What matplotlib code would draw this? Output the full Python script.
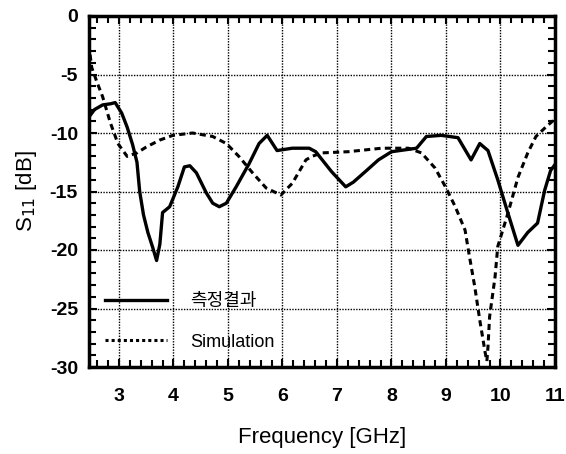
import numpy as np
import matplotlib
matplotlib.use("Agg")
import matplotlib.pyplot as plt
from matplotlib.lines import Line2D
from matplotlib.ticker import MultipleLocator

plt.rcParams['font.family'] = ['Liberation Sans', 'Noto Sans CJK KR', 'DejaVu Sans']
plt.rcParams['axes.unicode_minus'] = False

# measured (측정결과)
meas_f = [2.47, 2.55, 2.7, 2.85, 2.93, 3.05, 3.15, 3.25, 3.33, 3.38, 3.45, 3.53, 3.62, 3.69, 3.75, 3.8, 3.93,
          4.08, 4.2, 4.3, 4.42, 4.6, 4.72, 4.84, 4.97, 5.15, 5.39, 5.57, 5.72, 5.9,
          6.18, 6.49, 6.61, 6.9, 7.16, 7.3, 7.52, 7.76, 8.0, 8.46, 8.64, 8.91, 9.22,
          9.46, 9.62, 9.77, 9.95, 10.1, 10.32, 10.5, 10.68, 10.81, 10.92, 11.0]
meas_s11 = [-8.5, -8.0, -7.6, -7.5, -7.4, -8.3, -9.5, -11.0, -12.5, -15.0, -17.0, -18.5, -19.8, -20.9, -19.5, -16.8, -16.3,
            -14.6, -12.9, -12.8, -13.4, -15.1, -16.0, -16.3, -16.0, -14.6, -12.6, -10.9, -10.2, -11.5,
            -11.3, -11.3, -11.6, -13.3, -14.6, -14.2, -13.3, -12.3, -11.6, -11.3, -10.3, -10.2, -10.4,
            -12.3, -10.9, -11.5, -14.0, -16.3, -19.6, -18.5, -17.7, -14.9, -13.2, -12.7]

# simulation
sim_f = [2.47, 2.5, 2.6, 2.7, 2.84, 2.98, 3.15, 3.33, 3.5, 3.75, 3.99, 4.35, 4.72, 4.97,
         5.2, 5.45, 5.7, 5.97, 6.18, 6.43, 6.54, 6.72, 7.2, 7.82, 8.31, 8.55, 8.8, 8.99,
         9.17, 9.35, 9.41, 9.53, 9.62, 9.72, 9.75, 9.77, 9.8, 9.9, 9.95, 10.14, 10.32,
         10.5, 10.65, 10.83, 11.0]
sim_s11 = [-3.3, -4.4, -5.7, -6.9, -9.1, -10.9, -12.0, -11.7, -11.2, -10.6, -10.2, -10.0, -10.3, -10.9,
           -12.0, -13.4, -14.7, -15.3, -14.3, -12.3, -12.0, -11.7, -11.6, -11.3, -11.3, -11.7, -13.0, -14.6,
           -16.3, -18.3, -20.0, -23.2, -26.0, -28.8, -29.5, -28.3, -25.7, -22.3, -19.7, -16.8, -13.8,
           -11.7, -10.3, -9.5, -8.8]

x_ticks = [3, 4, 5, 6, 7, 8, 9, 10, 11]
y_ticks = [0, -5, -10, -15, -20, -25, -30]
legend_labels = ['측정결과', 'Simulation']

fig = plt.figure(figsize=(5.66, 4.54), dpi=100)
ax = fig.add_axes([89/566, 1-367/454, (555-89)/566, (367-16)/454])

ax.plot(meas_f, meas_s11, color='black', lw=2.4, solid_joinstyle='round')
ax.plot(sim_f, sim_s11, color='black', lw=2.2, linestyle=(0, (2.0, 1.4)))

ax.set_xlim(2.45, 11)
ax.set_ylim(-30, 0)
ax.set_xticks(x_ticks)
ax.set_yticks(y_ticks)
ax.xaxis.set_minor_locator(MultipleLocator(0.2))
ax.yaxis.set_minor_locator(MultipleLocator(1))
ax.grid(True, which='major', color='black', linestyle=(0, (1, 1)), lw=1.0)
ax.tick_params(which='both', direction='in', top=True, right=True, width=1.5, color='black')
ax.tick_params(which='major', length=6)
ax.tick_params(which='minor', length=5)
ax.tick_params(axis='x', pad=15)
ax.tick_params(axis='y', pad=8)
for lab in ax.get_xticklabels() + ax.get_yticklabels():
    lab.set_fontweight('bold')
    lab.set_fontsize(14)
for s in ax.spines.values():
    s.set_linewidth(2.5)

ax.set_xlabel('Frequency [GHz]', fontsize=16, labelpad=16)
ax.set_ylabel('S$_{11}$ [dB]', fontsize=16, labelpad=8)

handles = [Line2D([], [], color='black', lw=2.4),
           Line2D([], [], color='black', lw=2.2, linestyle=(0, (1, 1)))]
ax.legend(handles, legend_labels, loc='lower left', bbox_to_anchor=(0.0, 0.0),
          frameon=False, fontsize=13, handlelength=3.4, labelspacing=1.3, handletextpad=1.3)

fig.savefig('out.png', dpi=100)
